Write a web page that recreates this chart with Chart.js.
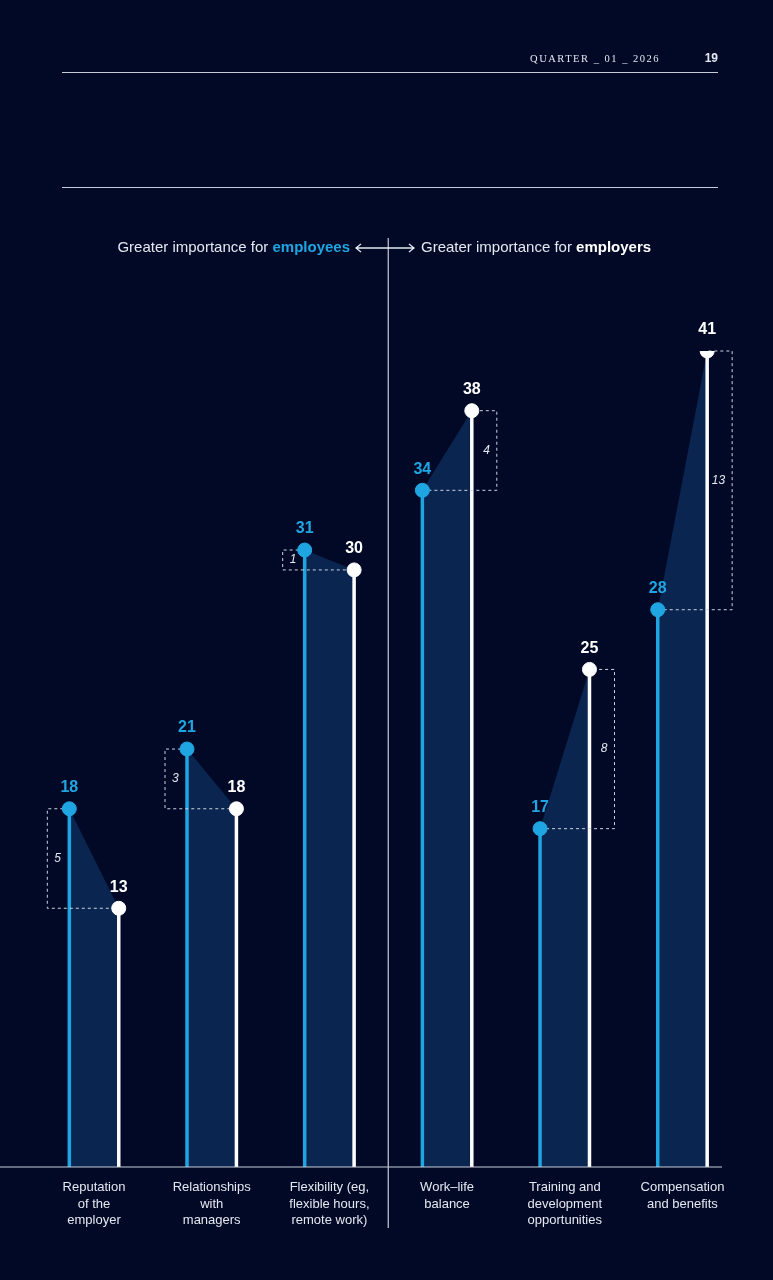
<!DOCTYPE html>
<html><head><meta charset="utf-8">
<script src="https://cdn.jsdelivr.net/npm/chart.js@4.4.1/dist/chart.umd.min.js"></script>
<style>
html,body{margin:0;padding:0;background:#010926;}
#wrap{width:773px;height:1280px;position:relative;}
</style></head>
<body>
<div id="wrap"><canvas id="c" width="773" height="1280"></canvas></div>
<script>
// data
const categories = [["Reputation","of the","employer"],["Relationships","with","managers"],["Flexibility (eg,","flexible hours,","remote work)"],["Work\u2013life","balance"],["Training and","development","opportunities"],["Compensation","and benefits"]];
const employees = [18, 21, 31, 34, 17, 28];
const employers = [13, 18, 30, 38, 25, 41];
const OFF = 0.21;

const BLUE = "#1fa6e2", WHITE = "#ffffff", TXT = "#e4e8f0";

const empPts = employees.map((v,i)=>({x:i-OFF, y:v}));
const erPts = employers.map((v,i)=>({x:i+OFF, y:v}));

const deco = {
  id:"deco",
  beforeDatasetsDraw(chart){
    const {ctx, scales:{x,y}} = chart;
    const y0 = y.getPixelForValue(0);
    ctx.save();
    employees.forEach((e,i)=>{
      const r = employers[i];
      const xa = x.getPixelForValue(i-OFF), xb = x.getPixelForValue(i+OFF);
      const ya = y.getPixelForValue(e), yb = y.getPixelForValue(r);
      // fill
      ctx.fillStyle = "rgba(18,62,115,0.55)";
      ctx.beginPath(); ctx.moveTo(xa,y0); ctx.lineTo(xa,ya); ctx.lineTo(xb,yb); ctx.lineTo(xb,y0); ctx.closePath(); ctx.fill();
      // stems
      ctx.lineWidth = 3.5;
      ctx.strokeStyle = BLUE; ctx.beginPath(); ctx.moveTo(xa,y0); ctx.lineTo(xa,ya); ctx.stroke();
      ctx.strokeStyle = WHITE; ctx.beginPath(); ctx.moveTo(xb,y0); ctx.lineTo(xb,yb); ctx.stroke();
      // bracket
      ctx.setLineDash([3,3]); ctx.lineWidth = 1; ctx.strokeStyle = "#cfd5e0";
      let bx, lx;
      if (e > r){ bx = xa - 22; lx = bx + 7; ctx.textAlign = "left"; }
      else { bx = xb + 25; lx = bx - 7; ctx.textAlign = "right"; }
      ctx.beginPath();
      ctx.moveTo(e>r?xa:xa, ya); ctx.lineTo(bx, ya);
      ctx.lineTo(bx, yb); ctx.lineTo(xb, yb);
      ctx.stroke();
      ctx.setLineDash([]);
      ctx.fillStyle = TXT; ctx.font = "italic 12px 'Helvetica Neue', Arimo, 'Liberation Sans', sans-serif";
      ctx.textBaseline = "middle";
      ctx.fillText(String(Math.abs(e-r)), lx, (ya+yb)/2);
    });
    ctx.restore();
  },
  afterDatasetsDraw(chart){
    const {ctx, scales:{x,y}} = chart;
    ctx.save();
    ctx.font = "bold 16px 'Liberation Sans', Arimo, sans-serif";
    ctx.textAlign = "center"; ctx.textBaseline = "bottom";
    employees.forEach((e,i)=>{
      ctx.fillStyle = BLUE;
      ctx.fillText(String(e), x.getPixelForValue(i-OFF), y.getPixelForValue(e)-13);
      ctx.fillStyle = WHITE;
      ctx.fillText(String(employers[i]), x.getPixelForValue(i+OFF), y.getPixelForValue(employers[i])-13);
    });
    // baseline, divider
    const y0 = y.getPixelForValue(0);
    ctx.strokeStyle = "#c8ccd8"; ctx.lineWidth = 1.2;
    ctx.beginPath(); ctx.moveTo(0,y0); ctx.lineTo(722,y0); ctx.stroke();
    const xd = x.getPixelForValue(2.5);
    ctx.beginPath(); ctx.moveTo(xd,238); ctx.lineTo(xd,1228); ctx.stroke();
    // category labels
    ctx.font = "13px 'Liberation Sans', Arimo, sans-serif"; ctx.fillStyle = TXT;
    ctx.textBaseline = "top";
    categories.forEach((c,i)=>{
      c.forEach((ln,k)=>ctx.fillText(ln, x.getPixelForValue(i), y0+14+k*16.5));
    });
    // header
    ctx.strokeStyle = "#c8ccd8"; ctx.lineWidth = 1;
    ctx.beginPath(); ctx.moveTo(62,72.5); ctx.lineTo(718,72.5); ctx.moveTo(62,187.5); ctx.lineTo(718,187.5); ctx.stroke();
    ctx.textBaseline = "middle"; ctx.textAlign = "right";
    ctx.font = "10.5px 'Liberation Serif', 'DejaVu Serif', serif";
    ctx.letterSpacing = "1.5px";
    ctx.fillText("QUARTER _ 01 _ 2026", 660, 59);
    ctx.letterSpacing = "0px";
    ctx.font = "bold 12px 'Liberation Sans', sans-serif";
    ctx.fillText("19", 718, 59);
    // title
    const ty = 248;
    ctx.font = "15px 'Liberation Sans', Arimo, sans-serif";
    ctx.textAlign = "left";
    const bold = "bold 15px 'Liberation Sans', Arimo, sans-serif";
    const p1 = "Greater importance for ";
    ctx.font = bold; const w1b = ctx.measureText("employees").width;
    ctx.font = "15px 'Liberation Sans', Arimo, sans-serif"; const w1 = ctx.measureText(p1).width;
    let sx = 350 - w1 - w1b;
    ctx.fillStyle = TXT; ctx.fillText(p1, sx, ty);
    ctx.font = bold; ctx.fillStyle = BLUE; ctx.fillText("employees", sx + w1, ty);
    ctx.font = "15px 'Liberation Sans', Arimo, sans-serif"; ctx.fillStyle = TXT;
    ctx.fillText(p1, 421, ty);
    ctx.font = bold; ctx.fillStyle = WHITE; ctx.fillText("employers", 421 + w1, ty);
    // arrows
    ctx.strokeStyle = TXT; ctx.lineWidth = 1.3;
    ctx.beginPath(); ctx.moveTo(356,ty); ctx.lineTo(414,ty);
    ctx.moveTo(361,ty-4); ctx.lineTo(356,ty); ctx.lineTo(361,ty+4);
    ctx.moveTo(409,ty-4); ctx.lineTo(414,ty); ctx.lineTo(409,ty+4);
    ctx.stroke();
    ctx.restore();
  }
};

new Chart(document.getElementById("c"), {
  type: "scatter",
  data: { datasets: [
    { label:"Employees", data: empPts, backgroundColor: BLUE, borderColor: BLUE, pointRadius: 7, pointHoverRadius: 7 },
    { label:"Employers", data: erPts, backgroundColor: WHITE, borderColor: WHITE, pointRadius: 7, pointHoverRadius: 7 }
  ]},
  options: {
    responsive: false, animation: false, devicePixelRatio: 1,
    layout: { padding: { left: 0, right: 51, top: 351, bottom: 113 } },
    plugins: { legend: { display:false }, tooltip: { enabled:false } },
    scales: {
      x: { type:"linear", display:false, min:-0.731, max:5.336 },
      y: { display:false, min:0, max:41 }
    }
  },
  plugins: [deco]
});
</script>
</body></html>
